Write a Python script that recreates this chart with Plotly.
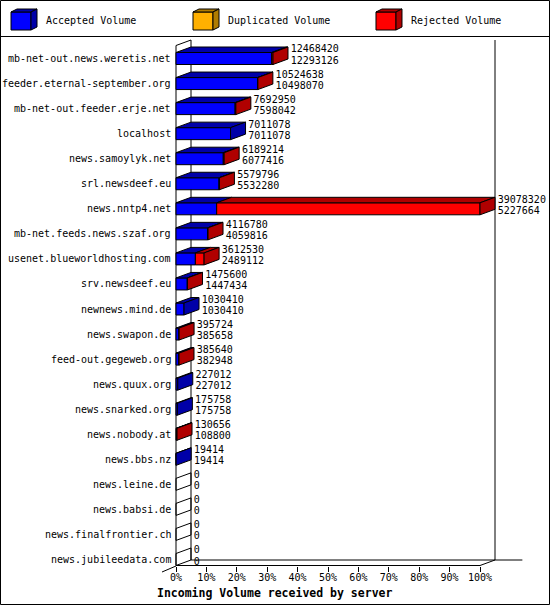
import plotly.graph_objects as go

# innreport style: incoming volume per server (bytes)
servers = [
    "mb-net-out.news.weretis.net", "feeder.eternal-september.org", "mb-net-out.feeder.erje.net",
    "localhost", "news.samoylyk.net", "srl.newsdeef.eu", "news.nntp4.net",
    "mb-net.feeds.news.szaf.org", "usenet.blueworldhosting.com", "srv.newsdeef.eu",
    "newnews.mind.de", "news.swapon.de", "feed-out.gegeweb.org", "news.quux.org",
    "news.snarked.org", "news.nobody.at", "news.bbs.nz", "news.leine.de",
    "news.babsi.de", "news.finalfrontier.ch", "news.jubileedata.com",
]
total_volume = [12468420, 10524638, 7692950, 7011078, 6189214, 5579796, 39078320,
                4116780, 3612530, 1475600, 1030410, 395724, 385640, 227012,
                175758, 130656, 19414, 0, 0, 0, 0]
accepted_volume = [12293126, 10498070, 7598042, 7011078, 6077416, 5532280, 5227664,
                   4059816, 2489112, 1447434, 1030410, 385658, 382948, 227012,
                   175758, 108800, 19414, 0, 0, 0, 0]
duplicated_volume = [0] * len(servers)
rejected_volume = [t - a - d for t, a, d in zip(total_volume, accepted_volume, duplicated_volume)]
tick_values = list(range(0, 101, 10))
tick_labels = [f"{v}%" for v in tick_values]

FONT = "DejaVu Sans Mono"
W, H = 550, 605
L, R, T, B = 160, 20, 37, 39
PW, PH = W - L - R, H - T - B

# pixel geometry of the fake 3d box
X0_PX, X_SCALE = 176, 3.04      # px of 0 %, px per %
Y0_PX, Y_SCALE = 58.5, 25.05    # px of first row, px per row
DX = 15 / X_SCALE
DY = 5.5 / Y_SCALE
HB = 12 / Y_SCALE

BLUE, BLUE_D = "#0000ff", "#0000a8"
ORANGE, ORANGE_D = "#ffb000", "#b07c00"
RED, RED_D = "#ff0000", "#b00000"


def to_paper(px, py):
    return (px - L) / PW, (H - B - py) / PH


vmax = max(total_volume)
pct = lambda v: v / vmax * 100

fig = go.Figure()

# walls and floor
n = len(servers)
top_back = (40 - Y0_PX) / Y_SCALE
floor_front = (n - 1) + HB / 2
floor_back = floor_front - DY
wx = [DX, DX, None, 0, 0, None, 0, DX, None, 100 + DX, 100 + DX, None,
      DX, 100 + DX + 9, None, 0, 100, 100 + DX]
wy = [top_back, floor_back, None, top_back + DY, floor_front, None, top_back + DY, top_back, None,
      top_back, floor_back, None, floor_back, floor_back, None, floor_front, floor_front, floor_back]
fig.add_trace(go.Scatter(x=wx, y=wy, mode="lines", line=dict(color="black", width=1),
                         hoverinfo="skip", showlegend=False))

series = [(accepted_volume, BLUE, BLUE_D), (duplicated_volume, ORANGE, ORANGE_D),
          (rejected_volume, RED, RED_D)]

front = {c: ([], []) for _, c, _ in series}
top = {c: ([], []) for _, _, c in series}
side = {c: ([], []) for _, _, c in series}
zx, zy = [], []


def poly(store, xs, ys):
    store[0].extend(xs + [xs[0], None])
    store[1].extend(ys + [ys[0], None])


for i in range(n):
    yt, yb = i - HB / 2, i + HB / 2
    start = 0
    last_dark = None
    for vals, col, dark in series:
        w = pct(vals[i])
        if w <= 0:
            continue
        x0, x1 = start, start + w
        poly(front[col], [x0, x1, x1, x0], [yt, yt, yb, yb])
        poly(top[dark], [x0, x1, x1 + DX, x0 + DX], [yt, yt, yt - DY, yt - DY])
        start = x1
        last_dark = dark
    if last_dark is None:
        zx.extend([0, 0, DX, DX, 0, None])
        zy.extend([yt, yb, yb - DY, yt - DY, yt, None])
    else:
        poly(side[last_dark], [start, start, start + DX, start + DX],
             [yt, yb, yb - DY, yt - DY])

fig.add_trace(go.Scatter(x=zx, y=zy, mode="lines", line=dict(color="black", width=1),
                         hoverinfo="skip", showlegend=False))
for store in (front, top, side):
    for col, (xs, ys) in store.items():
        if not xs:
            continue
        fig.add_trace(go.Scatter(x=xs, y=ys, mode="lines", fill="toself", fillcolor=col,
                                 line=dict(color="black", width=1), hoverinfo="skip",
                                 showlegend=False))

# value labels: total on top, accepted below
ends = [pct(t) + DX + 0.9 for t in total_volume]
fig.add_trace(go.Scatter(x=ends, y=[i - 0.34 for i in range(n)], mode="text",
                         text=[str(v) for v in total_volume], textposition="middle right",
                         textfont=dict(family=FONT, size=10, color="black"),
                         hoverinfo="skip", showlegend=False, cliponaxis=False))
fig.add_trace(go.Scatter(x=ends, y=[i + 0.1 for i in range(n)], mode="text",
                         text=[str(v) for v in accepted_volume], textposition="middle right",
                         textfont=dict(family=FONT, size=10, color="black"),
                         hoverinfo="skip", showlegend=False, cliponaxis=False))

annotations = []
for i, name in enumerate(servers):
    annotations.append(dict(x=0, y=i, xref="x", yref="y", text=name, showarrow=False,
                            xanchor="right", yanchor="middle", xshift=-3,
                            font=dict(family=FONT, size=10, color="black")))

# legend box
shapes = []
legend_items = [("Accepted Volume", BLUE, BLUE_D, 11), ("Duplicated Volume", ORANGE, ORANGE_D, 193),
                ("Rejected Volume", RED, RED_D, 376)]


def path(points):
    pts = [to_paper(px, py) for px, py in points]
    return "M " + " L ".join(f"{a:.5f},{b:.5f}" for a, b in pts) + " Z"


for label, col, dark, x0 in legend_items:
    shapes.append(dict(type="path", xref="paper", yref="paper", fillcolor=col,
                       line=dict(color="black", width=1),
                       path=path([(x0, 12), (x0 + 20, 12), (x0 + 20, 30), (x0, 30)])))
    shapes.append(dict(type="path", xref="paper", yref="paper", fillcolor=dark,
                       line=dict(color="black", width=1),
                       path=path([(x0, 12), (x0 + 6, 9), (x0 + 26, 9), (x0 + 20, 12)])))
    shapes.append(dict(type="path", xref="paper", yref="paper", fillcolor=dark,
                       line=dict(color="black", width=1),
                       path=path([(x0 + 20, 12), (x0 + 26, 9), (x0 + 26, 27), (x0 + 20, 30)])))
    tx, ty = to_paper(x0 + 33, 21)
    annotations.append(dict(x=tx, y=ty, xref="paper", yref="paper", text=label, showarrow=False,
                            xanchor="left", yanchor="middle",
                            font=dict(family=FONT, size=10, color="black")))

sx0, sy0 = to_paper(0, 36.5)
sx1, _ = to_paper(W, 36.5)
shapes.append(dict(type="line", xref="paper", yref="paper", x0=sx0, y0=sy0, x1=sx1, y1=sy0,
                   line=dict(color="black", width=1)))
bx0, by0 = to_paper(0.5, 604.5)
bx1, by1 = to_paper(549.5, 0.5)
shapes.append(dict(type="rect", xref="paper", yref="paper", x0=bx0, y0=by0, x1=bx1, y1=by1,
                   line=dict(color="black", width=1)))
ex0, ey0 = to_paper(162, 572)
ex1, ey1 = to_paper(176, 566)
shapes.append(dict(type="line", xref="paper", yref="paper", x0=ex0, y0=ey0, x1=ex1, y1=ey1,
                   line=dict(color="black", width=1)))

ax, ay = to_paper(155, 593)
annotations.append(dict(x=ax, y=ay, xref="paper", yref="paper",
                        text="<b>Incoming Volume received by server</b>", showarrow=False,
                        xanchor="left", yanchor="middle",
                        font=dict(family=FONT, size=11.5, color="black")))

fig.update_layout(
    width=W, height=H,
    margin=dict(l=L, r=R, t=T, b=B),
    paper_bgcolor="white", plot_bgcolor="white",
    showlegend=False,
    xaxis=dict(range=[(L - X0_PX) / X_SCALE, (W - R - X0_PX) / X_SCALE],
               tickmode="array", tickvals=tick_values, ticktext=tick_labels,
               ticks="outside", ticklen=5, tickcolor="black", ticklabelstandoff=-3,
               showgrid=False, zeroline=False, showline=False,
               tickfont=dict(family=FONT, size=10, color="black"), fixedrange=True),
    yaxis=dict(range=[(H - B - Y0_PX) / Y_SCALE, (T - Y0_PX) / Y_SCALE],
               showticklabels=False, showgrid=False, zeroline=False, showline=False,
               ticks="", fixedrange=True),
    shapes=shapes,
    annotations=annotations,
)

# page body has a default 8px margin; drop it so the chart sits at the window corner
fig.write_html("out.html", config={"displayModeBar": False},
               post_script="document.body.style.margin='0';")
